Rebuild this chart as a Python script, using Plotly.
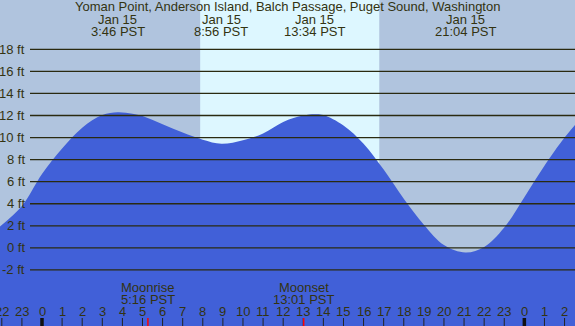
import plotly.graph_objects as go

# ---- data (hours relative to Jan 15 00:00 PST) ----
tide_hours = [-2.09, -1, 0, 1, 2, 3, 3.77, 4.5, 5, 6, 7, 8, 8.93, 10, 11, 12, 13,
              13.57, 14, 15, 16, 17, 18, 19, 20, 21.07, 22, 23, 24, 25, 26, 26.52]
tide_ft = [1.95, 3.8, 6.7, 9.0, 10.9, 12.05, 12.3, 12.15, 11.95, 11.2, 10.45,
           9.8, 9.43, 9.75, 10.38, 11.42, 12.0, 12.12, 12.05, 11.1, 9.45, 7.1, 4.45,
           2.1, 0.26, -0.42, 0.08, 1.85, 4.6, 7.45, 10.0, 11.15]

title_text = "Yoman Point, Anderson Island, Balch Passage, Puget Sound, Washington"
event_hours = [3.77, 8.93, 13.57, 21.07]
event_dates = ["Jan 15", "Jan 15", "Jan 15", "Jan 15"]
event_times = ["3:46 PST", "8:56 PST", "13:34 PST", "21:04 PST"]

sunrise_h = 7.87
sunset_h = 16.78

moon_hours = [5.27, 13.02]
moon_names = ["Moonrise", "Moonset"]
moon_times = ["5:16 PST", "13:01 PST"]

tick_hours = list(range(-2, 27))
tick_labels = ["22", "23", "0", "1", "2", "3", "4", "5", "6", "7", "8", "9", "10", "11",
               "12", "13", "14", "15", "16", "17", "18", "19", "20", "21", "22", "23",
               "0", "1", "2"]
midnight_hours = [0, 24]

grid_ft = [-2, 0, 2, 4, 6, 8, 10, 12, 14, 16, 18]
grid_labels = ["-2 ft", "0 ft", "2 ft", "4 ft", "6 ft", "8 ft", "10 ft", "12 ft",
               "14 ft", "16 ft", "18 ft"]

X_RANGE = [-2.09, 26.52]
Y_RANGE = [-7.08, 22.47]

W, H = 575, 326
NIGHT = "#B0C4DE"
DAY = "#DDF7FF"
WATER = "#4160D8"
TXT = "#333311"
FONT = "Liberation Sans"

fig = go.Figure()
fig.add_trace(go.Scatter(x=[X_RANGE[0], X_RANGE[1]], y=[Y_RANGE[0], Y_RANGE[0]],
                         mode="lines", line=dict(width=0), hoverinfo="skip",
                         showlegend=False))
fig.add_trace(go.Scatter(x=tide_hours, y=tide_ft, mode="lines",
                         line=dict(width=0, shape="spline", smoothing=1.0, color=WATER),
                         fill="tonexty", fillcolor=WATER, showlegend=False))

shapes = []
# daylight band
shapes.append(dict(type="rect", xref="x", yref="paper", x0=sunrise_h, x1=sunset_h,
                   y0=0, y1=1, fillcolor=DAY, line=dict(width=0), layer="below"))
# grid lines
for g in grid_ft:
    shapes.append(dict(type="line", xref="paper", yref="y", x0=30 / W, x1=1, y0=g, y1=g,
                       line=dict(color="#2a2a10", width=1.3), layer="above"))
# hour ticks
for h in tick_hours:
    if h in midnight_hours:
        shapes.append(dict(type="line", xref="x", yref="paper", x0=h, x1=h, y0=0,
                           y1=8 / H, line=dict(color="#111111", width=3.5)))
    else:
        shapes.append(dict(type="line", xref="x", yref="paper", x0=h, x1=h, y0=0,
                           y1=8 / H, line=dict(color="#222222", width=1)))
for m in moon_hours:
    shapes.append(dict(type="line", xref="x", yref="paper", x0=m, x1=m, y0=0,
                       y1=8 / H, line=dict(color="#ff0000", width=1.5)))

ann = []
fnt = dict(family=FONT, size=13, color=TXT)
ann.append(dict(text=title_text, xref="paper", yref="paper", x=0.5, y=1 - 7 / H,
                xanchor="center", yanchor="middle", showarrow=False, font=fnt))
for h, d, t in zip(event_hours, event_dates, event_times):
    ann.append(dict(text=d, xref="x", yref="paper", x=h, y=1 - 19 / H,
                    xanchor="center", yanchor="middle", showarrow=False, font=fnt))
    ann.append(dict(text=t, xref="x", yref="paper", x=h, y=1 - 31 / H,
                    xanchor="center", yanchor="middle", showarrow=False, font=fnt))
for g, lab in zip(grid_ft, grid_labels):
    ann.append(dict(text=lab, xref="paper", yref="y", x=27 / W, y=g,
                    xanchor="right", yanchor="middle", showarrow=False, font=fnt))
for m, n, t in zip(moon_hours, moon_names, moon_times):
    ann.append(dict(text=n, xref="x", yref="paper", x=m, y=(H - 287) / H,
                    xanchor="center", yanchor="middle", showarrow=False, font=fnt))
    ann.append(dict(text=t, xref="x", yref="paper", x=m, y=(H - 299) / H,
                    xanchor="center", yanchor="middle", showarrow=False, font=fnt))
for h, lab in zip(tick_hours, tick_labels):
    ann.append(dict(text=lab, xref="x", yref="paper", x=h, y=(H - 311) / H,
                    xanchor="center", yanchor="middle", showarrow=False, font=fnt))

fig.update_layout(
    width=W, height=H,
    margin=dict(l=0, r=0, t=0, b=0, pad=0),
    paper_bgcolor=NIGHT, plot_bgcolor=NIGHT,
    xaxis=dict(range=X_RANGE, visible=False, fixedrange=True),
    yaxis=dict(range=Y_RANGE, visible=False, fixedrange=True),
    shapes=shapes, annotations=ann, showlegend=False,
)

fig.write_html("out.html", config={"displayModeBar": False},
               post_script="document.body.style.margin='0';document.body.style.overflow='hidden';")
